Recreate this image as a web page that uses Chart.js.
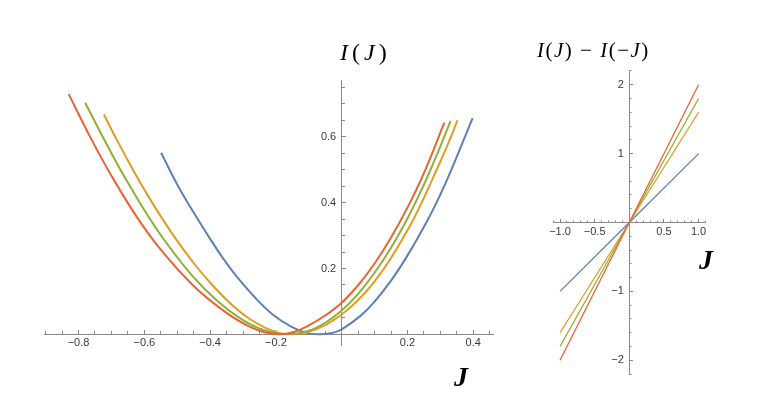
<!DOCTYPE html>
<html>
<head>
<meta charset="utf-8">
<script src="https://cdn.jsdelivr.net/npm/chart.js@4.4.1/dist/chart.umd.min.js"></script>
<style>
  html, body { margin: 0; padding: 0; background: #fff; }
  #wrap { position: relative; width: 763px; height: 407px; overflow: hidden; }
  #wrap canvas { position: absolute; left: 0; top: 0; }
  .lbl { position: absolute; font-family: "Liberation Serif", "DejaVu Serif", serif; color: #000; white-space: nowrap; line-height: 1; }
  .lbl i { font-style: italic; }
  #t-left { left: 340px; top: 40px; font-size: 24px; letter-spacing: 4px; }
  #t-right { left: 537px; top: 40px; font-size: 21px; letter-spacing: 1.5px; }
  .jlab { font-size: 28px; font-style: italic; font-weight: bold; }
  #j-left { left: 454px; top: 363px; }
  #j-right { left: 699px; top: 246px; }
</style>
</head>
<body>
<div id="wrap">
  <canvas id="left" width="763" height="407"></canvas>
  <canvas id="right" width="763" height="407"></canvas>
  <div class="lbl" id="t-left"><i>I</i>(<i>J</i>)</div>
  <div class="lbl" id="t-right"><i>I</i>(<i>J</i>) − <i>I</i>(−<i>J</i>)</div>
  <div class="lbl jlab" id="j-left">J</div>
  <div class="lbl jlab" id="j-right">J</div>
</div>
<script>
// ── Left panel: rate function I(J) ──
const blueJ   = [-0.549, -0.500, -0.464, -0.398, -0.360, -0.322, -0.260, -0.206, -0.155, -0.110, -0.070, -0.030, 0.000, 0.057, 0.098, 0.150, 0.198, 0.259, 0.300, 0.330, 0.398];
const blueI   = [ 0.552,  0.455,  0.393,  0.287,  0.230,  0.179,  0.108,  0.057,  0.024,  0.005,  0.000,  0.004, 0.015, 0.056, 0.097, 0.163, 0.236, 0.343, 0.425, 0.492, 0.657];

const orangeJ = [-0.723, -0.680, -0.630, -0.590, -0.549, -0.500, -0.458, -0.408, -0.340, -0.277, -0.206, -0.150, -0.100, -0.050, 0.000, 0.050, 0.100, 0.150, 0.211, 0.250, 0.285, 0.320, 0.352];
const orangeI = [ 0.668,  0.584,  0.492,  0.423,  0.357,  0.284,  0.227,  0.166,  0.095,  0.045,  0.009,  0.000,  0.008,  0.028, 0.060, 0.104, 0.161, 0.232, 0.336, 0.415, 0.492, 0.571, 0.650];

const greenJ  = [-0.780, -0.720, -0.667, -0.610, -0.549, -0.458, -0.378, -0.306, -0.240, -0.165, -0.100, -0.050, 0.000, 0.050, 0.100, 0.150, 0.200, 0.250, 0.290, 0.331];
const greenI  = [ 0.704,  0.588,  0.490,  0.394,  0.300,  0.182,  0.101,  0.047,  0.014,  0.000,  0.011,  0.035, 0.072, 0.123, 0.187, 0.263, 0.352, 0.455, 0.547, 0.649];

const redJ    = [-0.830, -0.760, -0.700, -0.625, -0.550, -0.450, -0.350, -0.280, -0.235, -0.190, -0.145, -0.100, -0.050, 0.000, 0.050, 0.100, 0.150, 0.200, 0.250, 0.312];
const redI    = [ 0.730,  0.591,  0.482,  0.360,  0.257,  0.147,  0.065,  0.023,  0.006,  0.000,  0.007,  0.027,  0.057, 0.096, 0.149, 0.215, 0.294, 0.385, 0.490, 0.643];

const leftXTicks = [-0.8, -0.6, -0.4, -0.2, 0.2, 0.4];
const leftYTicks = [0.2, 0.4, 0.6];

// ── Right panel: I(J) - I(-J) ──
const diffJ      = [-1, 1];
const blueDiff   = [-1, 1];
const orangeDiff = [-1.6, 1.6];
const greenDiff  = [-1.8, 1.8];
const redDiff    = [-2, 2];

const rightXTicks = [-1, -0.5, 0.5, 1];
const rightYTicks = [-2, -1, 1, 2];

// ── Styling ──
const BLUE = '#5E81B5', ORANGE = '#E19C24', GREEN = '#8FB032', RED = '#EB6235';
const AXIS = '#8a8a8a';
const LABEL = '#3a3a3a';
const TICK_FONT = { family: 'Liberation Sans, Arial, sans-serif', size: 11 };

const pairs = (xs, ys) => xs.map((x, i) => ({ x, y: ys[i] }));
const minus = s => s.replace('-', '\u2212');
const fmt1 = v => minus(v.toFixed(1));
const fmt0 = v => minus(String(Math.round(v)));

// a labelled major axis with fixed tick values
function majorAxis(min, max, pos, ticks, fmt, tickLen, pad) {
  return {
    type: 'linear', min, max, position: pos,
    afterBuildTicks: ax => { ax.ticks = ticks.map(value => ({ value })); },
    ticks: { callback: fmt, font: TICK_FONT, color: LABEL, padding: pad, autoSkip: false, maxRotation: 0 },
    grid: { drawOnChartArea: false, tickLength: tickLen, color: AXIS, lineWidth: 1 },
    border: { color: AXIS, width: 1 },
  };
}

// unlabelled minor tick marks on the same axis line
function minorAxis(axis, min, max, pos, step, tickLen) {
  return {
    type: 'linear', axis, min, max, position: pos,
    ticks: { display: false, stepSize: step, includeBounds: false },
    grid: { drawOnChartArea: false, tickLength: tickLen, color: AXIS, lineWidth: 1 },
    border: { display: false },
  };
}

function line(data, color, order, width) {
  return { data, borderColor: color, backgroundColor: color, borderWidth: width, order,
           pointRadius: 0, fill: false, tension: 0.4 };
}

const common = {
  responsive: false,
  animation: false,
  events: [],
  plugins: { legend: { display: false }, tooltip: { enabled: false } },
};

// ── Left chart ──
const LX = [-0.905, 0.46], LY = [-0.035, 0.772];
new Chart(document.getElementById('left'), {
  type: 'line',
  data: {
    datasets: [
      line(pairs(redJ, redI), RED, 0, 2),
      line(pairs(greenJ, greenI), GREEN, 1, 2),
      line(pairs(orangeJ, orangeI), ORANGE, 2, 2),
      line(pairs(blueJ, blueI), BLUE, 3, 2),
    ],
  },
  options: {
    ...common,
    layout: { padding: { left: 44, right: 270, top: 80.3, bottom: 61.2 } },
    scales: {
      x: majorAxis(LX[0], LX[1], { y: 0 }, leftXTicks, fmt1, -5, 7.4),
      xMinor: minorAxis('x', LX[0], LX[1], { y: 0 }, 0.05, -3),
      y: majorAxis(LY[0], LY[1], { x: 0 }, leftYTicks, v => fmt1(v) + '\u2002', -5, 0),
      yMinor: minorAxis('y', LY[0], LY[1], { x: 0 }, 0.05, -3),
    },
  },
});

// ── Right chart ──
const RX = [-1.1, 1.1], RY = [-2.2, 2.2];
new Chart(document.getElementById('right'), {
  type: 'line',
  data: {
    datasets: [
      line(pairs(diffJ, redDiff), RED, 0, 1.3),
      line(pairs(diffJ, greenDiff), GREEN, 1, 1.3),
      line(pairs(diffJ, orangeDiff), ORANGE, 2, 1.3),
      line(pairs(diffJ, blueDiff), BLUE, 3, 1.3),
    ],
  },
  options: {
    ...common,
    layout: { padding: { left: 553.1, right: 57.5, top: 70.9, bottom: 32.9 } },
    scales: {
      x: majorAxis(RX[0], RX[1], { y: 0 }, rightXTicks, fmt1, -4, 6.6),
      xMinor: minorAxis('x', RX[0], RX[1], { y: 0 }, 0.1, -2.5),
      y: majorAxis(RY[0], RY[1], { x: 0 }, rightYTicks, v => fmt0(v) + '\u2002', -4, 0),
      yMinor: minorAxis('y', RY[0], RY[1], { x: 0 }, 0.2, -2.5),
    },
  },
});
</script>
</body>
</html>
